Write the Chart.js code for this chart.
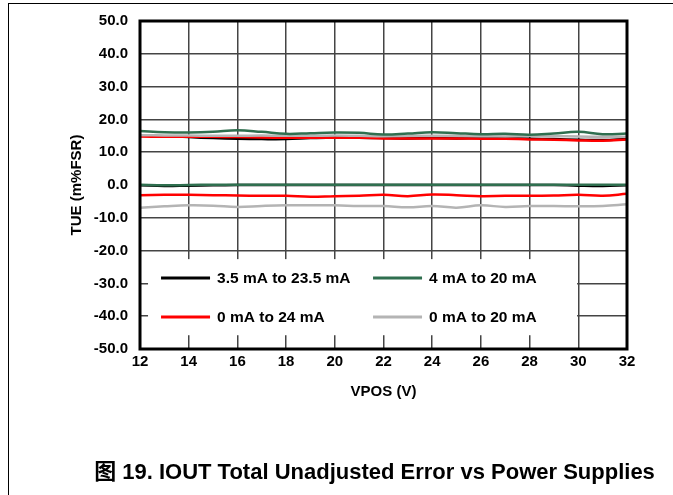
<!DOCTYPE html>
<html lang="zh">
<head>
<meta charset="UTF-8" />
<title>IOUT Total Unadjusted Error vs Power Supplies</title>
<script src="https://cdn.jsdelivr.net/npm/chart.js"></script>
<style>
  html, body { margin: 0; padding: 0; background: #fff; }
  #wrap { position: relative; width: 673px; height: 495px; }
  #frame { position: absolute; left: 8px; top: 3px; right: 0; bottom: 0;
           border-top: 1.5px solid #000; border-left: 1.5px solid #000; pointer-events: none; }
</style>
</head>
<body>
<div id="wrap">
  <canvas id="tueChart" width="673" height="495"></canvas>
  <div id="frame"></div>
</div>
<script>
// VPOS (V)
const vpos = [12, 13, 14, 15, 16, 17, 18, 19, 20, 21, 22, 23, 24, 25, 26, 27, 28, 29, 30, 31, 32];

// TUE (m%FSR), two curves per output range
const blackHigh = [15.1, 14.9, 14.6, 14.3, 14.1, 14.0, 14.0, 14.3, 14.5, 14.4, 14.3, 14.2, 14.3, 14.2, 14.3, 14.2, 14.1, 14.0, 13.8, 13.7, 14.0];
const blackLow  = [-0.1, -0.3, -0.2, -0.1, 0.0, 0.0, 0.0, 0.0, 0.0, 0.0, 0.0, 0.0, 0.0, 0.0, 0.0, 0.0, 0.0, 0.0, -0.2, -0.3, -0.1];
const greenHigh = [16.5, 16.1, 16.0, 16.2, 16.7, 16.2, 15.6, 15.8, 16.0, 15.9, 15.4, 15.7, 16.1, 15.8, 15.5, 15.6, 15.3, 15.7, 16.2, 15.5, 15.7];
const greenLow  = [0.1, -0.1, 0.0, 0.1, 0.1, 0.1, 0.1, 0.1, 0.1, 0.1, 0.1, 0.1, 0.1, 0.1, 0.1, 0.1, 0.1, 0.1, 0.1, 0.1, 0.1];
const redHigh   = [14.8, 14.7, 14.7, 14.7, 14.6, 14.5, 14.4, 14.4, 14.4, 14.4, 14.2, 14.2, 14.2, 14.2, 14.1, 14.1, 13.9, 13.8, 13.6, 13.5, 13.9];
const redLow    = [-3.1, -3.0, -3.0, -3.1, -3.2, -3.3, -3.3, -3.6, -3.4, -3.3, -3.0, -3.4, -2.9, -3.1, -3.4, -3.3, -3.3, -3.2, -3.0, -3.3, -2.7];
const grayHigh  = [15.2, 15.1, 15.1, 15.0, 15.0, 15.1, 15.0, 15.0, 15.1, 15.0, 14.9, 15.0, 15.0, 15.0, 14.9, 14.9, 15.0, 14.9, 14.8, 14.7, 14.7];
const grayLow   = [-6.9, -6.5, -6.2, -6.3, -6.7, -6.4, -6.2, -6.2, -6.2, -6.4, -6.4, -6.8, -6.4, -6.9, -6.2, -6.7, -6.4, -6.4, -6.5, -6.4, -5.9];

const rangeLabels = ['3.5 mA to 23.5 mA', '4 mA to 20 mA', '0 mA to 24 mA', '0 mA to 20 mA'];
const rangeColors = ['#000000', '#2f6f4f', '#ff0000', '#b4b4b4'];
const figureTitle = '图 19. IOUT Total Unadjusted Error vs Power Supplies';

const FONT = '"Liberation Sans", "Noto Sans CJK SC", Arial, sans-serif';
Chart.defaults.font.family = FONT;
Chart.defaults.color = '#000';

const pts = arr => arr.map((v, i) => ({ x: vpos[i], y: v }));

function series(data, color, order) {
  return {
    data: pts(data),
    borderColor: color,
    borderWidth: 2.5,
    pointRadius: 0,
    tension: 0.4,
    fill: false,
    order: order
  };
}

// plot frame round the chart area
const plotFrame = {
  id: 'plotFrame',
  afterDatasetsDraw(chart) {
    const { ctx, chartArea: a } = chart;
    ctx.save();
    ctx.strokeStyle = '#000';
    ctx.lineWidth = 3;
    ctx.strokeRect(a.left, a.top, a.right - a.left, a.bottom - a.top);
    ctx.restore();
  }
};

// legend drawn inside the plot, on a white box
const legendBox = {
  id: 'legendBox',
  afterDatasetsDraw(chart) {
    const { ctx, scales: { x, y } } = chart;
    const left = x.getPixelForValue(12.33), right = x.getPixelForValue(29.95);
    const top = y.getPixelForValue(-22.6), bottom = y.getPixelForValue(-45.8);
    ctx.save();
    ctx.fillStyle = '#fff';
    ctx.fillRect(left, top, right - left, bottom - top);
    ctx.font = 'bold 15.5px ' + FONT;
    ctx.textBaseline = 'middle';
    const rows = [y.getPixelForValue(-28.3), y.getPixelForValue(-40.1)];
    rangeLabels.forEach((label, i) => {
      const lx = left + (i % 2 ? 225 : 13);
      const ly = Math.round(rows[Math.floor(i / 2)]);
      ctx.strokeStyle = rangeColors[i];
      ctx.lineWidth = 3;
      ctx.beginPath();
      ctx.moveTo(lx, ly);
      ctx.lineTo(lx + 49, ly);
      ctx.stroke();
      ctx.fillStyle = '#000';
      ctx.fillText(label, lx + 56, ly + 1);
    });
    ctx.restore();
  }
};

// figure caption under the x axis
const caption = {
  id: 'caption',
  afterDraw(chart) {
    const { ctx, chartArea: a } = chart;
    ctx.save();
    ctx.font = 'bold 22px ' + FONT;
    ctx.fillStyle = '#000';
    ctx.textAlign = 'center';
    ctx.textBaseline = 'middle';
    ctx.fillText(figureTitle, (a.left + a.right) / 2 - 9, chart.height - 22);
    ctx.restore();
  }
};

new Chart(document.getElementById('tueChart'), {
  type: 'line',
  data: {
    datasets: [
      series(blackHigh, rangeColors[0], 3),
      series(blackLow, rangeColors[0], 3),
      series(greenHigh, rangeColors[1], 0),
      series(greenLow, rangeColors[1], 0),
      series(redHigh, rangeColors[2], 2),
      series(redLow, rangeColors[2], 2),
      series(grayHigh, rangeColors[3], 1),
      series(grayLow, rangeColors[3], 1)
    ]
  },
  options: {
    responsive: false,
    animation: false,
    layout: { padding: { left: 68, right: 46, top: 17, bottom: 94.6 } },
    plugins: {
      legend: { display: false },
      tooltip: { enabled: false }
    },
    scales: {
      x: {
        type: 'linear',
        min: 12,
        max: 32,
        ticks: { stepSize: 2, padding: 4, font: { size: 15, weight: 'bold' }, color: '#000' },
        grid: { color: '#444', lineWidth: 1.5, drawTicks: false },
        border: { display: false },
        title: { display: true, text: 'VPOS (V)', font: { size: 15, weight: 'bold' }, color: '#000', padding: 0 },
        afterFit(s) { s.height = 51.4; }
      },
      y: {
        min: -50,
        max: 50,
        ticks: {
          stepSize: 10, padding: 12, font: { size: 15, weight: 'bold' }, color: '#000',
          callback: v => v.toFixed(1)
        },
        grid: { color: '#444', lineWidth: 1.5, drawTicks: false },
        border: { display: false },
        title: { display: true, text: 'TUE (m%FSR)', font: { size: 15, weight: 'bold' }, color: '#000', padding: 0 },
        afterFit(s) { s.width = 72; }
      }
    }
  },
  plugins: [plotFrame, legendBox, caption]
});
</script>
</body>
</html>
